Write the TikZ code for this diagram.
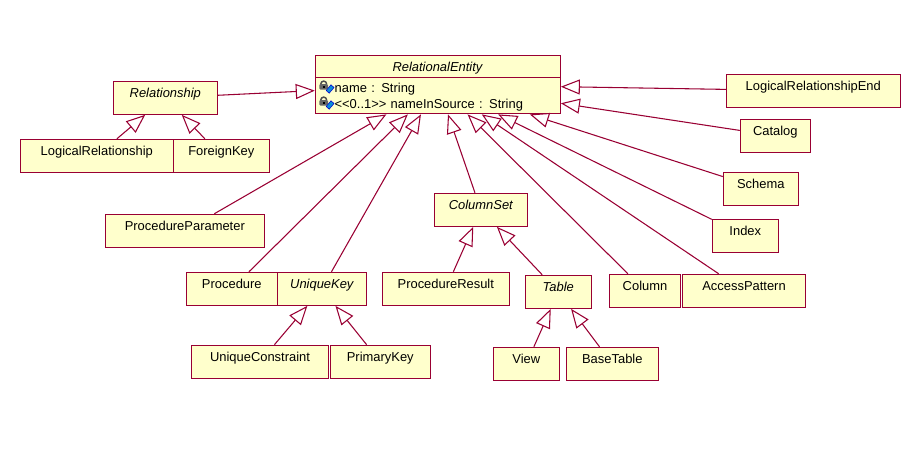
\documentclass[tikz,border=0pt]{standalone}
\usepackage{xcolor}
\usepackage{fontspec}
\setmainfont{Liberation Sans}
\usetikzlibrary{shapes,arrows.meta,positioning}
\definecolor{umlline}{HTML}{990033}
\definecolor{umlfill}{HTML}{FFFFCC}

\begin{document}
\begin{tikzpicture}[
    x=0.75pt,
    y=-0.75pt,
    font=\fontsize{9.7}{12}\selectfont,
    block/.style={
        rectangle,
        draw=umlline,
        fill=umlfill,
        line width=0.8pt,
        inner xsep=0pt,
        inner ysep=0pt,
        text height=12pt,
        text depth=12.75pt
    },
    abstract/.style={
        block,
        font=\fontsize{9.7}{12}\selectfont\itshape
    },
    classbox/.style={
        rectangle split,
        rectangle split parts=2,
        draw=umlline,
        fill=umlfill,
        line width=0.8pt,
        inner xsep=0pt,
        inner ysep=0pt,
        text width=183.75pt,
        align=left
    },
    line/.style={
        draw=umlline, line width=0.8pt,
        -{Triangle[open,length=14.25pt,width=11.25pt]}
    }
]
    \useasboundingbox (0,0) rectangle (912,454);

    % Nodes
    \node [classbox] (entity) at (437.8,84.7) {%
        \rule[-4pt]{0pt}{15.9pt}\makebox[183.75pt][c]{\textit{RelationalEntity}}
        \nodepart{two}
        \rule{0pt}{10.8pt}\hspace*{14.5pt}name : String\\
        \rule[-3.4pt]{0pt}{3.4pt}\hspace*{14.5pt}<{}<0..1>{}> nameInSource : String};
    \node [abstract, minimum width=78pt] (relship) at (165.3,97.8) {Relationship};
    \node [block, minimum width=114.75pt] (logrel) at (96.8,155.8) {LogicalRelationship};
    \node [block, minimum width=72pt, right of=logrel, node distance=93.4pt] (fkey) {ForeignKey};
    \node [block, minimum width=119.25pt] (procparam) at (184.8,230.8) {ProcedureParameter};
    \node [block, minimum width=68.25pt] (proc) at (231.8,288.8) {Procedure};
    \node [abstract, minimum width=66.75pt, right of=proc, node distance=67.5pt] (ukey) {UniqueKey};
    \node [block, minimum width=103pt] (ucons) at (260,361.7) {UniqueConstraint};
    \node [block, minimum width=75pt, right of=ucons, node distance=90.2pt] (pkey) {PrimaryKey};
    \node [abstract, minimum width=69.75pt] (colset) at (480.8,209.8) {ColumnSet};
    \node [block, minimum width=95.25pt] (procres) at (445.8,288.8) {ProcedureResult};
    \node [abstract, minimum width=49.5pt] (table) at (558.3,291.8) {Table};
    \node [block, minimum width=53.5pt] (column) at (645,290.8) {Column};
    \node [block, minimum width=92.5pt, right of=column, node distance=74.25pt] (access) {AccessPattern};
    \node [block, minimum width=49.5pt] (view) at (526.3,363.8) {View};
    \node [block, minimum width=69pt, right of=view, node distance=64.5pt] (basetable) {BaseTable};
    \node [block, minimum width=130.5pt] (relend) at (813.3,90.8) {LogicalRelationshipEnd};
    \node [block, minimum width=52.5pt] (catalog) at (775.3,135.8) {Catalog};
    \node [block, minimum width=56.25pt] (schema) at (760.8,188.8) {Schema};
    \node [block, minimum width=49.5pt] (index) at (745.3,235.8) {Index};

    % Attribute icons
    \foreach \iconrow in {0,16} {
        \begin{scope}[shift={(0,\iconrow)}]
            \draw [black!70, line width=1.1pt] (320.8,84) arc [start angle=180, end angle=360, radius=2.9];
            \fill [black!60, rounded corners=0.8pt] (319.3,84) rectangle (328,89.5);
            \fill [black] (322.5,85.5) rectangle (324.5,87.5);
            \draw [fill=cyan!75!blue, draw=blue!80!black, line width=0.4pt] (331,84.8) -- (334,87.5) -- (329.2,93.2) -- (326.2,90.5) -- cycle;
        \end{scope}
    }

    % Edges
    \path [line] (relship) -- (entity);
    \path [line] (logrel) -- (relship);
    \path [line] (fkey) -- (relship);
    \path [line] (procparam) -- (entity);
    \path [line] (proc) -- (entity);
    \path [line] (ukey) -- (entity);
    \path [line] (ucons) -- (ukey);
    \path [line] (pkey) -- (ukey);
    \path [line] (colset) -- (entity);
    \path [line] (procres) -- (colset);
    \path [line] (table) -- (colset);
    \path [line] (view) -- (table);
    \path [line] (basetable) -- (table);
    \path [line] (column) -- (entity);
    \path [line] (access) -- (entity);
    \path [line] (index) -- (entity);
    \path [line] (schema) -- (entity);
    \path [line] (catalog) -- (entity);
    \path [line] (relend) -- (entity);

\end{tikzpicture}
\end{document}
